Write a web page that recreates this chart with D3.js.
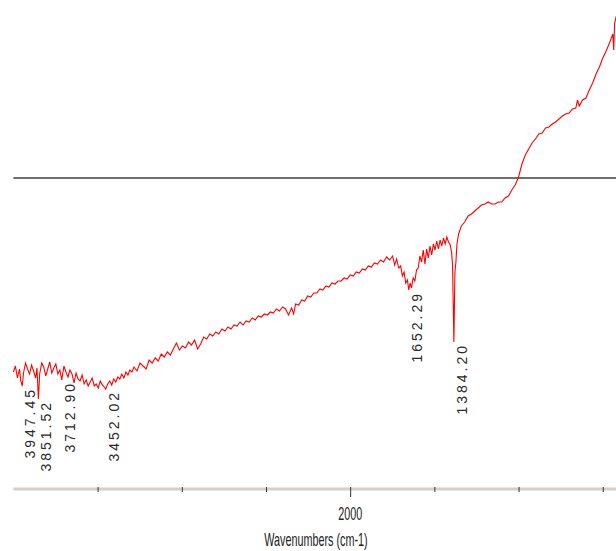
<!DOCTYPE html>
<head>
    <title>IR spectrum</title>
    <script src="https://d3js.org/d3.v7.min.js"></script>
    <style>
        body { margin: 0; background: #fff; }
        svg { display: block; }
    </style>
</head>
<body>
    <svg></svg>
</body>

<script>
    // spectrum data (wavenumber cm-1, transmittance in arbitrary units)
    var wavenumbers = [
        4000, 3988, 3976, 3964, 3956, 3947.45, 3940, 3928, 3916, 3904, 3892, 3880, 3868, 3860, 3851.52,
        3844, 3832, 3820, 3808, 3796, 3784, 3772, 3760, 3748, 3736, 3724, 3712.90, 3700, 3688, 3676,
        3664, 3652, 3640, 3628, 3616, 3604, 3592, 3580, 3568, 3556, 3544, 3532, 3520, 3508, 3496,
        3484, 3472, 3460, 3452.02, 3440, 3428, 3416, 3404, 3392, 3380, 3368, 3356, 3344, 3332, 3320,
        3308, 3296, 3284, 3266, 3248, 3230, 3212, 3194, 3176, 3158, 3140, 3122, 3104, 3086, 3068,
        3050, 3032, 3014, 2996, 2978, 2960, 2942, 2924, 2906, 2888, 2870, 2852, 2834, 2816, 2798,
        2780, 2762, 2744, 2726, 2708, 2690, 2672, 2654, 2636, 2618, 2600, 2582, 2564, 2546, 2528,
        2510, 2492, 2474, 2456, 2438, 2420, 2402, 2384, 2366, 2348, 2336, 2324, 2306, 2288, 2270,
        2252, 2234, 2216, 2198, 2180, 2162, 2144, 2126, 2108, 2090, 2072, 2054, 2036, 2018, 2000,
        1982, 1964, 1946, 1928, 1910, 1892, 1874, 1856, 1838, 1820, 1802, 1784, 1766, 1748, 1736,
        1724, 1712, 1700, 1690, 1680, 1670, 1660, 1652.29, 1644, 1636, 1626, 1616, 1606, 1596, 1586,
        1576, 1566, 1556, 1546, 1536, 1526, 1516, 1506, 1496, 1486, 1476, 1466, 1456, 1446, 1436,
        1426, 1416, 1406, 1398, 1392, 1384.20, 1378, 1372, 1366, 1356, 1340, 1320, 1300, 1280, 1260,
        1240, 1220, 1200, 1180, 1160, 1140, 1120, 1100, 1080, 1060, 1040, 1020, 1000, 980, 960,
        940, 920, 900, 880, 860, 840, 820, 800, 780, 760, 740, 720, 700, 680, 660,
        650, 640, 620, 600, 580, 560, 540, 520, 500, 480, 460, 440, 435, 430, 420
    ];
    var transmittance = [
        128, 134, 122, 131, 119, 114, 127, 137, 131, 126, 135, 129, 122, 132, 101,
        126, 137, 133, 124, 131, 138, 127, 132, 136, 126, 130, 120, 134, 128, 123,
        130, 126, 117, 127, 121, 119, 125, 116, 120, 114, 118, 122, 114, 116, 112,
        119, 115, 113, 111, 116, 119, 115, 121, 118, 123, 121, 126, 122, 128, 125,
        130, 128, 133, 129, 137, 134, 131, 140, 137, 142, 139, 146, 143, 148, 145,
        151, 157, 150, 154, 152, 158, 155, 160, 151, 156, 163, 161, 166, 164, 168,
        166, 171, 169, 173, 171, 175, 174, 178, 175, 179, 178, 182, 180, 184, 183,
        186, 185, 188, 187, 191, 189, 193, 191, 185, 192, 186, 196, 195, 200, 199,
        204, 203, 207, 207, 211, 210, 214, 213, 217, 216, 219, 219, 222, 221, 225,
        224, 228, 227, 231, 230, 234, 233, 237, 236, 240, 238, 243, 240, 244, 235,
        241, 232, 234, 224, 228, 217, 220, 210, 217, 212, 222, 219, 230, 232, 244,
        238, 250, 236, 251, 242, 254, 245, 256, 250, 259, 251, 260, 254, 262, 256,
        263, 258, 255, 248, 235, 158, 228, 238, 256, 266, 274, 278, 284, 286, 289,
        292, 295, 296, 298, 296, 296, 298, 298, 302, 304, 310, 315, 323, 336, 345,
        351, 357, 361, 366, 367, 372, 373, 376, 378, 381, 384, 386, 387, 391, 392,
        400, 394, 400, 402, 410, 417, 426, 433, 442, 449, 457, 466, 450, 476, 484
    ];

    // labelled peaks
    var peaks = [3947.45, 3851.52, 3712.90, 3452.02, 1652.29, 1384.20];

    // horizontal reference level
    var refLevel = 322;

    // x axis ticks
    var tickValues = [3500, 3000, 2500, 2000, 1500, 1000, 500];
    var labeledTicks = [2000];

    var width = 616;
    var height = 551;
    var axisY = 489;

    var svg = d3.select('svg')
        .attr('width', width)
        .attr('height', height);

    var x = d3.scaleLinear()
        .domain([4000, 400])
        .range([13.4, 619.6]);

    var y = d3.scaleLinear()
        .domain([0, 500])
        .range([500, 0]);

    var data = wavenumbers.map(function (w, i) { return { w: w, t: transmittance[i] }; });

    // reference line
    svg.append('line')
        .attr('x1', x(4000))
        .attr('x2', width)
        .attr('y1', y(refLevel))
        .attr('y2', y(refLevel))
        .style('stroke', '#6e6e6e')
        .style('stroke-width', 2);

    // spectrum
    var line = d3.line()
        .x(function (d) { return x(d.w); })
        .y(function (d) { return y(d.t); });

    svg.append('path')
        .datum(data)
        .attr('d', line)
        .style('fill', 'none')
        .style('stroke', '#ff0000')
        .style('stroke-width', 1.1);

    // peak labels
    svg.selectAll('.peak')
        .data(peaks)
        .enter().append('text')
        .attr('class', 'peak')
        .attr('transform', function (w) {
            var d = data.find(function (p) { return p.w === w; });
            return 'translate(' + (x(w) + 13) + ',' + (y(d.t) + 1) + ')rotate(-90)';
        })
        .attr('text-anchor', 'end')
        .style('font-family', '"Liberation Sans", Arial, sans-serif')
        .style('font-size', '14px')
        .style('letter-spacing', '3px')
        .style('fill', '#2a2a2a')
        .text(function (w) { return w.toFixed(2); });

    // x axis
    var axis = d3.axisBottom(x)
        .tickValues(tickValues)
        .tickSizeOuter(0)
        .tickFormat(function () { return ''; });

    var gx = svg.append('g')
        .attr('transform', 'translate(0,' + axisY + ')')
        .call(axis);

    gx.select('.domain').remove();
    gx.insert('line', ':first-child')
        .attr('x1', x(4000))
        .attr('x2', width)
        .style('stroke', '#d4d0c8')
        .style('stroke-width', 3);

    gx.selectAll('.tick line')
        .attr('y1', -2)
        .attr('y2', function (d) { return labeledTicks.indexOf(d) >= 0 ? 8 : 3; })
        .style('stroke', '#333');

    svg.selectAll('.tlabel')
        .data(labeledTicks)
        .enter().append('text')
        .attr('class', 'tlabel')
        .attr('transform', function (d) { return 'translate(' + x(d) + ',520)scale(0.6,1)'; })
        .attr('text-anchor', 'middle')
        .style('font-family', '"Liberation Sans", Arial, sans-serif')
        .style('font-size', '18px')
        .style('fill', '#222')
        .text(function (d) { return d; });

    svg.append('text')
        .attr('transform', 'translate(316,546)scale(0.6,1)')
        .attr('text-anchor', 'middle')
        .style('font-family', '"Liberation Sans", Arial, sans-serif')
        .style('font-size', '18px')
        .style('fill', '#222')
        .text('Wavenumbers (cm-1)');
</script>
